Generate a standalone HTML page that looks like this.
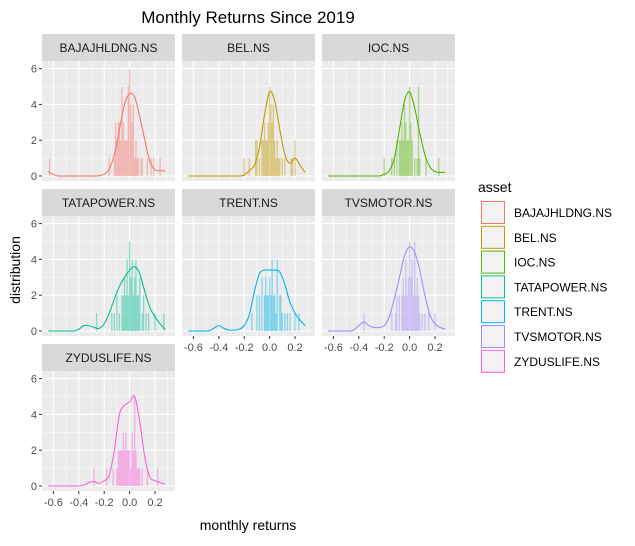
<!DOCTYPE html>
<html><head><meta charset="utf-8"><style>
body{margin:0;background:#fff;}
svg{font-family:"Liberation Sans",sans-serif;}
</style></head><body>
<svg id="c" width="635" height="541" xmlns="http://www.w3.org/2000/svg">
<text x="248" y="23" text-anchor="middle" font-size="17" fill="#000">Monthly Returns Since 2019</text>
<text x="248" y="530" text-anchor="middle" font-size="14" fill="#000">monthly returns</text>
<text transform="translate(20,270) rotate(-90)" text-anchor="middle" font-size="14" fill="#000">distribution</text>
<g id="panels"></g>
<g id="legend"></g>
</svg>
<script>
const assets=["BAJAJHLDNG.NS","BEL.NS","IOC.NS","TATAPOWER.NS","TRENT.NS","TVSMOTOR.NS","ZYDUSLIFE.NS"];
const colors=["#F8766D","#C49A00","#53B400","#00C094","#00B6EB","#A58AFF","#FB61D7"];
const xTicks=[-0.6,-0.4,-0.2,0,0.2];
const xTickLabels=["-0.6","-0.4","-0.2","0.0","0.2"];
const yTicks=[0,2,4,6];
// density sampled at x = -0.64, -0.60, ..., 0.28
const densX=[-0.64,-0.60,-0.56,-0.52,-0.48,-0.44,-0.40,-0.36,-0.32,-0.28,-0.24,-0.20,-0.16,-0.12,-0.08,-0.04,0.00,0.04,0.08,0.12,0.16,0.20,0.24,0.28];
const densBAJAJ=[0.25,0.08,0,0,0,0,0,0,0,0,0.02,0.1,0.4,1.2,2.6,4.0,4.6,4.4,3.3,2.0,0.8,0.35,0.3,0.28];
const densBEL=[0,0,0,0,0,0,0,0,0,0,0,0.05,0.3,0.6,1.6,3.4,4.7,4.2,2.6,1.2,0.7,1.0,0.6,0.2];
const densIOC=[0,0,0,0,0,0,0,0,0,0,0,0.1,0.3,1.0,2.6,4.2,4.7,3.8,2.4,1.2,0.5,0.25,0.2,0.2];
const densTATA=[0,0,0,0,0,0,0.1,0.3,0.3,0.2,0.15,0.4,1.0,1.8,2.5,3.0,3.4,3.6,3.2,2.2,1.3,0.8,0.4,0.1];
const densTRENT=[0,0,0,0,0,0.15,0.3,0.15,0.05,0.05,0.1,0.3,0.9,2.2,3.2,3.4,3.4,3.4,3.3,2.6,1.6,1.0,0.6,0.3];
const densTVS=[0,0,0,0,0,0.05,0.3,0.5,0.3,0.2,0.2,0.3,0.8,1.8,3.0,4.2,4.7,4.4,3.4,2.0,0.9,0.4,0.2,0.1];
const densZYDUS=[0,0,0,0,0,0,0,0.05,0.2,0.25,0.15,0.3,0.6,2.0,4.0,4.5,4.7,5.0,3.6,1.6,0.5,0.3,0.2,0.1];
// histogram: [bin center, count] pairs (bin width 0.01)
const histBAJAJ=[[-0.63,1],[-0.16,1],[-0.12,1],[-0.11,3],[-0.1,2],[-0.09,3],[-0.08,3],[-0.07,2],[-0.06,5],[-0.05,3],[-0.04,2],[-0.03,2],[-0.02,2],[-0.01,5],[0,6],[0.01,4],[0.02,3],[0.03,4],[0.04,1],[0.05,2],[0.06,1],[0.07,1],[0.09,1],[0.1,1],[0.14,1],[0.17,1],[0.19,1],[0.24,1]];
const histBEL=[[-0.2,1],[-0.16,1],[-0.11,2],[-0.1,2],[-0.08,1],[-0.06,2],[-0.05,2],[-0.04,3],[-0.03,2],[-0.02,2],[-0.01,3],[0,5],[0.01,4],[0.02,3],[0.03,4],[0.04,2],[0.05,1],[0.06,2],[0.07,1],[0.08,1],[0.1,1],[0.12,1],[0.17,1],[0.18,1],[0.2,2]];
const histIOC=[[-0.2,1],[-0.14,1],[-0.12,1],[-0.1,2],[-0.08,2],[-0.07,2],[-0.06,3],[-0.05,2],[-0.04,4],[-0.03,3],[-0.02,2],[-0.01,2],[0,5],[0.01,3],[0.02,2],[0.04,1],[0.06,1],[0.07,5],[0.08,1],[0.13,1],[0.23,1]];
const histTATA=[[-0.26,1],[-0.14,1],[-0.12,1],[-0.1,2],[-0.08,1],[-0.06,2],[-0.05,2],[-0.04,3],[-0.03,2],[-0.02,4],[-0.01,2],[0,5],[0.01,3],[0.02,4],[0.03,2],[0.04,3],[0.05,4],[0.06,2],[0.07,2],[0.08,3],[0.1,1],[0.11,2],[0.13,1],[0.15,1],[0.2,1],[0.27,1]];
const histTRENT=[[-0.14,1],[-0.1,2],[-0.08,2],[-0.06,3],[-0.04,2],[-0.03,3],[-0.02,2],[-0.01,2],[0,3],[0.01,2],[0.02,4],[0.03,2],[0.04,2],[0.05,1],[0.06,4],[0.08,2],[0.09,2],[0.1,1],[0.12,1],[0.14,1],[0.16,1],[0.2,1],[0.23,1]];
const histTVS=[[-0.36,1],[-0.14,1],[-0.11,1],[-0.1,2],[-0.08,2],[-0.06,2],[-0.05,3],[-0.04,2],[-0.03,4],[-0.02,2],[-0.01,3],[0,5],[0.01,3],[0.02,4],[0.03,2],[0.04,5],[0.05,2],[0.06,3],[0.07,2],[0.08,1],[0.1,1],[0.12,1],[0.15,1],[0.2,1]];
const histZYDUS=[[-0.28,1],[-0.18,1],[-0.13,1],[-0.1,1],[-0.09,2],[-0.08,2],[-0.07,2],[-0.06,2],[-0.05,3],[-0.04,2],[-0.03,3],[-0.02,2],[-0.01,2],[0,2],[0.01,1],[0.02,3],[0.03,2],[0.04,5],[0.05,2],[0.06,1],[0.07,1],[0.08,1],[0.1,1],[0.14,1],[0.22,1]];
const densAll=[densBAJAJ,densBEL,densIOC,densTATA,densTRENT,densTVS,densZYDUS];
const histAll=[histBAJAJ,histBEL,histIOC,histTATA,histTRENT,histTVS,histZYDUS];

const NS="http://www.w3.org/2000/svg";
function mk(tag,attrs,parent){const e=document.createElementNS(NS,tag);for(const k in attrs)e.setAttribute(k,attrs[k]);parent.appendChild(e);return e;}
const pW=133,pH=120,stripH=27;
const colX=[42,182,322], rowY=[34,189,344];
const X0=129.6-42, XS=127; // px offset of 0 within panel, px per unit
function xs(v){return X0+v*XS;}
function ys(v){return pH-5-v*17.9;}
const G=document.getElementById('panels');
assets.forEach((name,i)=>{
  const col=i%3,row=Math.floor(i/3);
  const g=mk('g',{transform:`translate(${colX[col]},${rowY[row]})`},G);
  
  
  const s=mk('rect',{x:0,y:0,width:pW,height:stripH,fill:'#D9D9D9'},g);
  
  
  const st=mk('text',{x:pW/2,y:18,'text-anchor':'middle','font-size':12,fill:'#1A1A1A'},g);
  st.textContent=name;
  
  
  const p=mk('g',{transform:`translate(0,${stripH})`},g);
  const bg=mk('rect',{x:0,y:0,width:pW,height:pH,fill:'#EBEBEB'},p);
  
  
  // minor grid
  [-0.7,-0.5,-0.3,-0.1,0.1,0.3].forEach(v=>{const x=xs(v);if(x>0&&x<pW)mk('line',{x1:x,x2:x,y1:0,y2:pH,stroke:'#fff','stroke-width':0.5},p);});
  [1,3,5].forEach(v=>mk('line',{x1:0,x2:pW,y1:ys(v),y2:ys(v),stroke:'#fff','stroke-width':0.5},p));
  xTicks.forEach(v=>mk('line',{x1:xs(v),x2:xs(v),y1:0,y2:pH,stroke:'#fff','stroke-width':1.1},p));
  yTicks.forEach(v=>mk('line',{x1:0,x2:pW,y1:ys(v),y2:ys(v),stroke:'#fff','stroke-width':1.1},p));
  // histogram
  histAll[i].forEach(([c,n])=>{
    const r=mk('rect',{x:xs(c-0.005),y:ys(n),width:XS*0.01,height:ys(0)-ys(n),fill:colors[i],'fill-opacity':0.45},p);
    
    
  });
  // density (catmull-rom)
  const pts=densX.map((x,k)=>[xs(x),ys(densAll[i][k])]);
  let d=`M${pts[0][0]},${pts[0][1]}`;
  for(let k=0;k<pts.length-1;k++){
    const p0=pts[Math.max(k-1,0)],p1=pts[k],p2=pts[k+1],p3=pts[Math.min(k+2,pts.length-1)];
    const c1=[p1[0]+(p2[0]-p0[0])/6,Math.min(ys(0),p1[1]+(p2[1]-p0[1])/6)];
    const c2=[p2[0]-(p3[0]-p1[0])/6,Math.min(ys(0),p2[1]-(p3[1]-p1[1])/6)];
    d+=` C${c1[0]},${c1[1]} ${c2[0]},${c2[1]} ${p2[0]},${p2[1]}`;
  }
  const dl=mk('path',{d:d,fill:'none',stroke:colors[i],'stroke-width':1.1},p);
  
  
  // y axis on first column
  if(col===0){
    yTicks.forEach(v=>{
      mk('line',{x1:-3,x2:0,y1:ys(v),y2:ys(v),stroke:'#333'},p);
      const t=mk('text',{x:-5,y:ys(v)+4,'text-anchor':'end','font-size':11,fill:'#4D4D4D'},p);
      t.textContent=v;
      
      
    });
  }
  // x axis on bottom panels
  if(i>=4){
    xTicks.forEach((v,k)=>{
      mk('line',{x1:xs(v),x2:xs(v),y1:pH,y2:pH+3,stroke:'#333'},p);
      const t=mk('text',{x:xs(v),y:pH+15,'text-anchor':'middle','font-size':11,fill:'#4D4D4D'},p);
      t.textContent=xTickLabels[k];
      
      
    });
  }
});
const L=document.getElementById('legend');
const lt=mk('text',{x:478,y:192,'font-size':14,fill:'#000'},L);
lt.textContent='asset';


assets.forEach((name,i)=>{
  const y=201+i*24.8;
  const r=mk('rect',{x:481.5,y:y+0.5,width:23,height:22,fill:'#F2F2F2',stroke:colors[i],'stroke-width':1},L);
  
  
  const t=mk('text',{x:514,y:y+16,'font-size':12,fill:'#000'},L);
  t.textContent=name;
  
  
});
</script>
</body></html>
